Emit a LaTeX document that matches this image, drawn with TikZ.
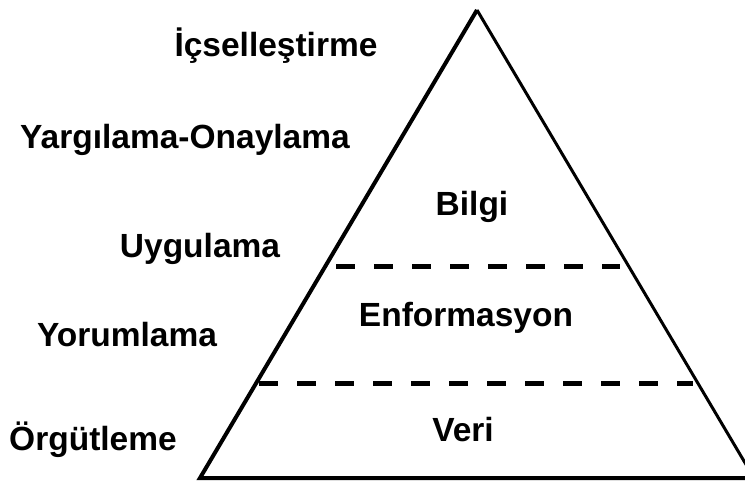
\documentclass[tikz,border=0pt]{standalone}
\usepackage{fontspec}
\setmainfont{Liberation Sans}
\begin{document}
\begin{tikzpicture}[x=1pt, y=-1pt, every node/.style={font=\fontsize{33.5}{40}\selectfont\bfseries, inner sep=0pt}]
            \useasboundingbox (0, 0) rectangle (745, 481);
            \clip (0, 0) rectangle (745, 481);

            \path (477, 10) coordinate (Top);
            \path (200, 478) coordinate (BaseL);
            \path (754, 478) coordinate (BaseR);
            \path (336, 267) coordinate (UpL);
            \path (620, 267) coordinate (UpR);
            \path (259, 383) coordinate (LowL);
            \path (693, 383) coordinate (LowR);

            \draw[line width=4] (BaseR) -- (BaseL) -- (Top);
            \draw[line width=3] (Top) -- (BaseR);
            \draw[line width=5, dash pattern=on 19 off 19] (UpL) -- (UpR);
            \draw[line width=5, dash pattern=on 19 off 19] (LowL) -- (LowR);

            \node (bilgi) at (472, 207) {Bilgi};
            \node (enformasyon) at (466, 318) {Enformasyon};
            \node (veri) at (463, 430) {Veri};

            \node (icsel) at (276, 46) {İçselleştirme};
            \node (yargi) at (185, 140) {Yargılama-Onaylama};
            \node (uygu) at (200, 249) {Uygulama};
            \node (yorum) at (127, 335) {Yorumlama};
            \node (orgut) at (93, 440) {Örgütleme};
        \end{tikzpicture}
\end{document}
